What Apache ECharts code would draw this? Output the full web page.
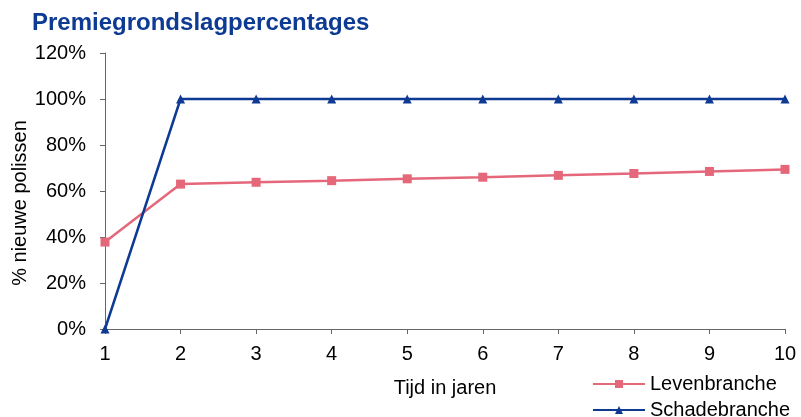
<!DOCTYPE html>
<html><head><meta charset="utf-8">
<script src="https://cdn.jsdelivr.net/npm/echarts@6/dist/echarts.min.js"></script>
<style>html,body{margin:0;padding:0;background:#fff}#c{width:801px;height:417px}</style>
</head><body><div id="c"></div>
<script>
const years = [1,2,3,4,5,6,7,8,9,10];
const leven = [37.8, 63, 63.8, 64.5, 65.3, 66, 66.8, 67.6, 68.5, 69.4];
const schade = [0, 100, 100, 100, 100, 100, 100, 100, 100, 100];
const yTicks = [0,20,40,60,80,100,120];

const chart = echarts.init(document.getElementById('c'));
const F = 'Liberation Sans, Arial, sans-serif';
const legText = {fontSize:20,fontFamily:F,color:'#000',lineHeight:20};
chart.setOption({
  animation:false,
  title:{text:'Premiegrondslagpercentages',left:27,top:6,textStyle:{color:'#0D3A93',fontSize:24,fontWeight:'bold',fontFamily:F}},
  grid:{left:105,right:16,top:53,bottom:88,outerBoundsMode:'none',containLabel:false},
  legend:[
    {left:587,top:369,itemWidth:52,itemHeight:10,textStyle:legText,data:['Levenbranche']},
    {left:587,top:395,itemWidth:52,itemHeight:10,textStyle:legText,data:['Schadebranche']}
  ],
  xAxis:{type:'value',min:1,max:10,interval:1,
    name:'Tijd in jaren',nameLocation:'middle',nameGap:49,nameMoveOverlap:false,
    nameTextStyle:{fontSize:20,fontFamily:F,color:'#000'},
    axisLine:{lineStyle:{color:'#666'}},axisTick:{show:true,length:5,lineStyle:{color:'#666'}},
    axisLabel:{fontSize:20,fontFamily:F,color:'#000',margin:15},
    splitLine:{show:false}},
  yAxis:{type:'value',min:0,max:120,interval:20,
    name:'% nieuwe polissen',nameLocation:'middle',nameGap:75,nameMoveOverlap:false,
    nameTextStyle:{fontSize:20,fontFamily:F,color:'#000',padding:[0,24,0,0]},
    axisLine:{show:true,lineStyle:{color:'#666'}},axisTick:{show:true,length:5,lineStyle:{color:'#666'}},
    axisLabel:{fontSize:20,fontFamily:F,color:'#000',margin:19,formatter:v=>yTicks.includes(v)?v+'%':''},
    splitLine:{show:false}},
  series:[
    {name:'Levenbranche',type:'line',data:years.map((y,i)=>[y,leven[i]]),
      symbol:'rect',symbolSize:9,itemStyle:{color:'#E5677A'},lineStyle:{color:'#E5677A',width:2.5}},
    {name:'Schadebranche',type:'line',data:years.map((y,i)=>[y,schade[i]]),
      symbol:'triangle',symbolSize:9,itemStyle:{color:'#0D3A93'},lineStyle:{color:'#0D3A93',width:2.5}}
  ]
});
</script></body></html>
